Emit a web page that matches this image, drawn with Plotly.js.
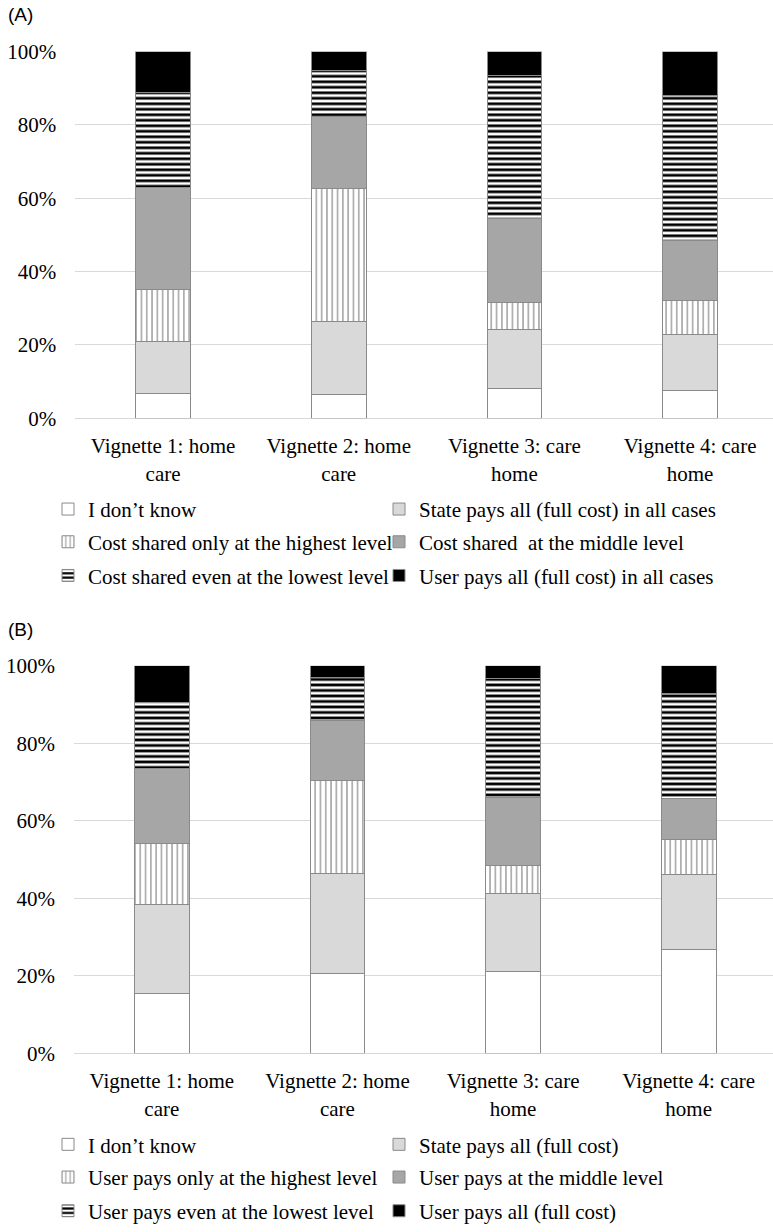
<!DOCTYPE html>
<html><head><meta charset="utf-8">
<script src="https://cdn.plot.ly/plotly-3.0.1.min.js"></script>
<style>html,body{margin:0;padding:0;background:#fff}#chart{width:773px;height:1232px}</style>
</head><body><div id="chart"></div>
<script>
// ---- data ----
const categories = ['Vignette 1: home<br>care', 'Vignette 2: home<br>care', 'Vignette 3: care<br>home', 'Vignette 4: care<br>home'];
const yTickVals = [0, 20, 40, 60, 80, 100];
const yTickText = ['0%', '20%', '40%', '60%', '80%', '100%'];

const namesA = ['I don\u2019t know', 'State pays all (full cost) in all cases', 'Cost shared only at the highest level', 'Cost shared\u00a0 at the middle level', 'Cost shared even at the lowest level', 'User pays all (full cost) in all cases'];
const namesB = ['I don\u2019t know', 'State pays all (full cost)', 'User pays only at the highest level', 'User pays at the middle level', 'User pays even at the lowest level', 'User pays all (full cost)'];

const A_dontKnow = [6.8, 6.4, 8.0, 7.6];
const A_statePays = [14.1, 20.0, 16.2, 15.1];
const A_highest = [14.1, 36.3, 7.3, 9.3];
const A_middle = [27.9, 19.6, 23.1, 16.5];
const A_lowest = [25.8, 12.6, 38.9, 39.6];
const A_userPays = [11.3, 5.1, 6.5, 11.9];

const B_dontKnow = [15.4, 20.5, 21.1, 26.7];
const B_statePays = [23.1, 26.0, 20.1, 19.3];
const B_highest = [15.5, 23.8, 7.2, 9.2];
const B_middle = [19.4, 15.5, 17.7, 10.5];
const B_lowest = [17.0, 11.2, 30.5, 27.1];
const B_userPays = [9.6, 3.0, 3.4, 7.2];

// ---- styling ----
const W = 773, H = 1232;
const px = x => x / W;
const py = y => 1 - y / H;
const serif = 'Liberation Serif';
const edge = {color: '#8a8a8a', width: 1};
const styles = [
  {color: '#ffffff'},
  {color: '#d9d9d9'},
  {color: '#ffffff', pattern: {shape: '|', fgcolor: '#a6a6a6', bgcolor: '#ffffff', size: 5.3, solidity: 0.3}},
  {color: '#a6a6a6'},
  {color: '#ffffff', pattern: {shape: '-', fgcolor: '#000000', bgcolor: '#ffffff', size: 5.5, solidity: 0.5}},
  {color: '#000000'}
];

function makeTraces(series, names, xa, ya, legBase) {
  return series.map((vals, i) => {
    const n = legBase + Math.floor(i / 2);
    const t = {
      type: 'bar', x: categories, y: vals, name: names[i],
      xaxis: xa, yaxis: ya,
      legend: 'legend' + (n === 1 ? '' : n),
      marker: Object.assign({line: edge}, JSON.parse(JSON.stringify(styles[i]))),
      hoverinfo: 'skip'
    };
    if (i % 2 === 1) t.legendwidth = 320;
    return t;
  });
}

const traces = [].concat(
  makeTraces([A_dontKnow, A_statePays, A_highest, A_middle, A_lowest, A_userPays], namesA, 'x', 'y', 1),
  makeTraces([B_dontKnow, B_statePays, B_highest, B_middle, B_lowest, B_userPays], namesB, 'x2', 'y2', 4)
);

function xAxis(domainStart, rangeEnd, anchor) {
  return {
    domain: [domainStart, 1], range: [-0.5, rangeEnd], anchor: anchor,
    type: 'category', showgrid: false, zeroline: false, showline: false,
    ticks: '', ticklabelstandoff: 13,
    tickfont: {family: serif, size: 21, color: '#000'},
    fixedrange: true
  };
}
function yAxis(domain, anchor) {
  return {
    domain: domain, range: [0, 100], anchor: anchor,
    tickmode: 'array', tickvals: yTickVals, ticktext: yTickText,
    showgrid: true, gridcolor: '#d9d9d9', gridwidth: 1,
    zeroline: true, zerolinecolor: '#d9d9d9', zerolinewidth: 1,
    showline: false, ticks: '', ticklabelstandoff: 18,
    tickfont: {family: serif, size: 21, color: '#000'},
    fixedrange: true
  };
}

const rowsY = [514, 547, 581, 1155, 1188, 1222];
const layout = {
  width: W, height: H,
  font: {family: serif, size: 21, color: '#000'},
  margin: {l: 0, r: 0, t: 0, b: 0, pad: 0},
  paper_bgcolor: '#fff', plot_bgcolor: '#fff',
  barmode: 'stack', bargap: 0.689,
  showlegend: true,
  xaxis: xAxis(px(75.2), 3.472, 'y'),
  yaxis: yAxis([py(422), py(52)], 'x'),
  xaxis2: xAxis(px(74), 3.48, 'y2'),
  yaxis2: yAxis([py(1062.7), py(671.7)], 'x2'),
  annotations: [
    {text: '(A)', xref: 'paper', yref: 'paper', x: px(6), y: py(15), xanchor: 'left', yanchor: 'middle', showarrow: false, font: {family: 'Liberation Sans', size: 19, color: '#000'}},
    {text: '(B)', xref: 'paper', yref: 'paper', x: px(6), y: py(635), xanchor: 'left', yanchor: 'middle', showarrow: false, font: {family: 'Liberation Sans', size: 19, color: '#000'}}
  ]
};
rowsY.forEach((ry, k) => {
  const key = 'legend' + (k === 0 ? '' : (k + 1));
  layout[key] = {
    orientation: 'h', x: px(48), xanchor: 'left', y: py(ry), yanchor: 'middle',
    entrywidth: 286, traceorder: 'normal', bgcolor: 'rgba(0,0,0,0)', borderwidth: 0,
    font: {family: serif, size: 21, color: '#000'},
    itemclick: false, itemdoubleclick: false
  };
});

Plotly.newPlot('chart', traces, layout, {displayModeBar: false, staticPlot: true});
</script>
</body></html>
